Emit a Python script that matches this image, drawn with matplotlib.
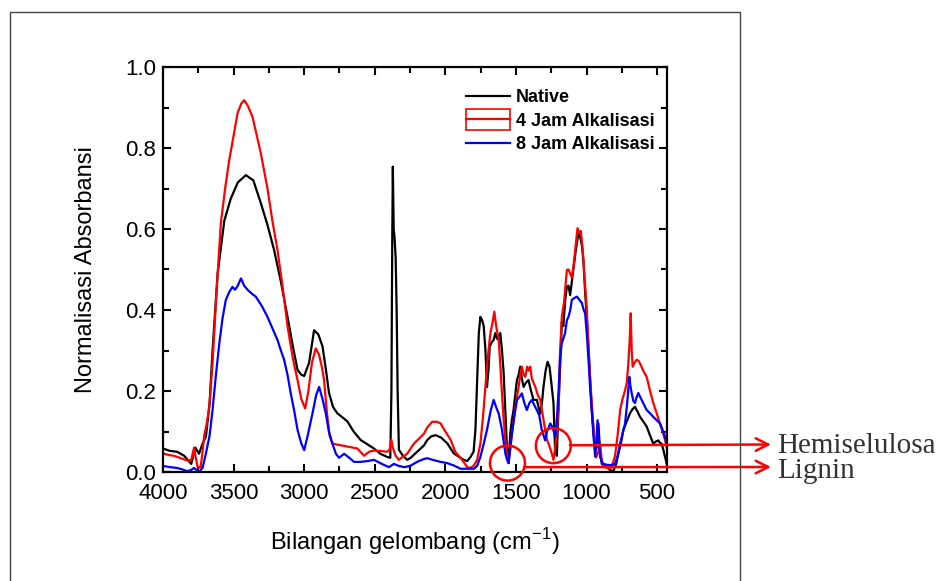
"""FTIR spectra: native vs alkali-treated samples (normalised absorbance)."""

import matplotlib

matplotlib.use("Agg")
import matplotlib.pyplot as plt
from matplotlib.patches import Ellipse, Rectangle
from matplotlib.legend_handler import HandlerTuple, HandlerPatch
from matplotlib.ticker import MultipleLocator, FormatStrFormatter

# --- data (wavenumber cm-1, normalised absorbance) ---
native_wn = [4000, 3950, 3900, 3850, 3800, 3770, 3745, 3720, 3696, 3670, 3649, 3613, 3566, 3520,
             3470, 3413, 3360, 3307, 3260, 3213, 3165, 3118, 3080, 3047, 3020, 3000, 2965, 2930,
             2900, 2870, 2845, 2824, 2795, 2765, 2730, 2694, 2650, 2600, 2550, 2506, 2460, 2411,
             2390, 2382, 2376, 2372, 2366, 2360, 2352, 2345, 2338, 2329, 2300, 2270, 2246, 2200,
             2153, 2128, 2100, 2069, 2030, 1987, 1940, 1893, 1869, 1845, 1822, 1800, 1787, 1775,
             1763, 1752, 1740, 1728, 1716, 1705, 1695, 1686, 1672, 1658, 1646, 1635, 1622, 1611,
             1599, 1587, 1575, 1564, 1552, 1540, 1528, 1517, 1505, 1493, 1481, 1470, 1458, 1446,
             1430, 1411, 1393, 1375, 1352, 1328, 1316, 1305, 1290, 1276, 1262, 1246, 1234, 1222,
             1215, 1210, 1199, 1187, 1175, 1164, 1152, 1140, 1128, 1116, 1104, 1092, 1075, 1057,
             1045, 1033, 1022, 1010, 998, 986, 975, 963, 951, 939, 928, 916, 904, 892, 875, 857,
             835, 810, 790, 774, 757, 739, 715, 692, 675, 657, 640, 621, 598, 574, 550, 527, 510,
             492, 480, 468, 456, 444, 432]
native_abs = [0.058, 0.052, 0.050, 0.040, 0.020, 0.060, 0.045, 0.070, 0.087, 0.170, 0.300, 0.490,
              0.620, 0.675, 0.715, 0.733, 0.720, 0.664, 0.610, 0.548, 0.470, 0.383, 0.310, 0.252,
              0.240, 0.237, 0.270, 0.350, 0.340, 0.310, 0.250, 0.195, 0.160, 0.145, 0.135, 0.125,
              0.100, 0.079, 0.068, 0.058, 0.045, 0.037, 0.035, 0.200, 0.580, 0.754, 0.600, 0.580,
              0.530, 0.400, 0.200, 0.055, 0.040, 0.030, 0.035, 0.050, 0.065, 0.079, 0.088, 0.091,
              0.085, 0.071, 0.046, 0.035, 0.030, 0.027, 0.037, 0.050, 0.104, 0.220, 0.343, 0.383,
              0.375, 0.360, 0.300, 0.210, 0.250, 0.309, 0.320, 0.326, 0.343, 0.330, 0.326, 0.343,
              0.300, 0.244, 0.150, 0.063, 0.022, 0.096, 0.130, 0.153, 0.190, 0.227, 0.240, 0.260,
              0.230, 0.210, 0.220, 0.227, 0.200, 0.178, 0.178, 0.144, 0.170, 0.210, 0.250, 0.272,
              0.260, 0.210, 0.170, 0.046, 0.080, 0.040, 0.161, 0.260, 0.370, 0.360, 0.420, 0.457,
              0.460, 0.437, 0.470, 0.503, 0.550, 0.590, 0.580, 0.560, 0.520, 0.445, 0.380, 0.305,
              0.230, 0.153, 0.100, 0.054, 0.060, 0.120, 0.050, 0.020, 0.015, 0.013, 0.005, 0.002,
              0.020, 0.046, 0.070, 0.104, 0.125, 0.145, 0.155, 0.161, 0.150, 0.136, 0.125, 0.112,
              0.090, 0.070, 0.075, 0.078, 0.072, 0.070, 0.055, 0.038, 0.020]

alk4_wn = [4000, 3960, 3922, 3880, 3828, 3800, 3780, 3770, 3757, 3734, 3720, 3708, 3690, 3672,
           3649, 3620, 3590, 3560, 3531, 3500, 3472, 3445, 3425, 3400, 3366, 3335, 3307, 3260,
           3225, 3189, 3150, 3118, 3080, 3047, 3020, 2993, 2970, 2945, 2918, 2895, 2875, 2859,
           2840, 2820, 2800, 2741, 2680, 2623, 2576, 2540, 2506, 2460, 2411, 2395, 2383, 2372,
           2352, 2329, 2300, 2270, 2223, 2153, 2128, 2093, 2060, 2034, 2000, 1963, 1930, 1893,
           1860, 1845, 1822, 1798, 1775, 1752, 1735, 1716, 1700, 1681, 1665, 1653, 1640, 1622,
           1610, 1599, 1587, 1575, 1563, 1552, 1540, 1528, 1505, 1481, 1470, 1458, 1446, 1434,
           1420, 1410, 1399, 1387, 1375, 1363, 1345, 1328, 1310, 1293, 1280, 1269, 1250, 1234,
           1222, 1211, 1198, 1187, 1175, 1159, 1139, 1128, 1116, 1104, 1092, 1080, 1064, 1052,
           1041, 1030, 1022, 1010, 998, 986, 975, 963, 951, 940, 932, 916, 904, 892, 880, 857,
           833, 815, 798, 780, 762, 745, 727, 715, 704, 695, 687, 680, 673, 660, 645, 633, 621,
           598, 574, 550, 527, 503, 480, 462, 444, 432]
alk4_abs = [0.046, 0.042, 0.040, 0.035, 0.028, 0.030, 0.060, 0.040, 0.015, 0.010, 0.050, 0.090,
            0.120, 0.160, 0.270, 0.450, 0.615, 0.700, 0.770, 0.830, 0.886, 0.910, 0.918, 0.905,
            0.877, 0.830, 0.787, 0.700, 0.620, 0.548, 0.450, 0.360, 0.280, 0.227, 0.180, 0.157,
            0.200, 0.270, 0.305, 0.290, 0.260, 0.227, 0.150, 0.090, 0.070, 0.066, 0.062, 0.058,
            0.040, 0.050, 0.053, 0.052, 0.050, 0.055, 0.080, 0.060, 0.040, 0.030, 0.038, 0.045,
            0.070, 0.094, 0.110, 0.124, 0.124, 0.120, 0.100, 0.080, 0.050, 0.035, 0.020, 0.012,
            0.010, 0.016, 0.030, 0.070, 0.130, 0.210, 0.280, 0.343, 0.370, 0.396, 0.360, 0.326,
            0.260, 0.194, 0.130, 0.079, 0.040, 0.022, 0.060, 0.096, 0.160, 0.210, 0.240, 0.260,
            0.240, 0.235, 0.260, 0.250, 0.260, 0.230, 0.220, 0.210, 0.190, 0.178, 0.140, 0.104,
            0.079, 0.070, 0.050, 0.030, 0.060, 0.096, 0.153, 0.300, 0.383, 0.420, 0.499, 0.500,
            0.490, 0.480, 0.510, 0.550, 0.602, 0.590, 0.595, 0.560, 0.525, 0.460, 0.400, 0.310,
            0.235, 0.170, 0.112, 0.060, 0.036, 0.050, 0.070, 0.030, 0.014, 0.010, 0.010, 0.020,
            0.040, 0.090, 0.153, 0.180, 0.202, 0.220, 0.268, 0.320, 0.392, 0.300, 0.260, 0.270,
            0.277, 0.275, 0.268, 0.250, 0.235, 0.200, 0.170, 0.145, 0.120, 0.100, 0.079, 0.060]

alk8_wn = [4000, 3950, 3900, 3860, 3828, 3800, 3780, 3760, 3745, 3720, 3696, 3670, 3649, 3625,
           3601, 3578, 3555, 3530, 3508, 3490, 3470, 3448, 3425, 3401, 3370, 3343, 3300, 3260,
           3225, 3189, 3165, 3142, 3118, 3095, 3070, 3047, 3020, 3000, 2975, 2941, 2915, 2894,
           2870, 2847, 2825, 2800, 2775, 2753, 2717, 2680, 2647, 2600, 2550, 2506, 2450, 2400,
           2364, 2330, 2290, 2250, 2200, 2153, 2128, 2090, 2034, 1987, 1940, 1892, 1845, 1798,
           1775, 1752, 1728, 1705, 1680, 1658, 1640, 1622, 1599, 1575, 1563, 1552, 1540, 1528,
           1510, 1493, 1476, 1458, 1440, 1423, 1405, 1387, 1370, 1352, 1335, 1317, 1293, 1280,
           1268, 1257, 1240, 1222, 1210, 1198, 1187, 1175, 1152, 1139, 1128, 1115, 1104, 1085,
           1068, 1050, 1033, 1020, 1010, 998, 986, 975, 963, 951, 939, 930, 922, 912, 904, 892,
           880, 857, 833, 815, 798, 780, 762, 745, 727, 712, 697, 688, 680, 668, 657, 645, 633,
           621, 598, 574, 550, 527, 503, 480, 462, 444, 432]
alk8_abs = [0.015, 0.012, 0.010, 0.006, 0.002, 0.005, 0.010, 0.004, 0.000, 0.010, 0.046, 0.090,
            0.153, 0.240, 0.318, 0.380, 0.425, 0.445, 0.457, 0.450, 0.460, 0.478, 0.460, 0.450,
            0.440, 0.433, 0.410, 0.383, 0.355, 0.326, 0.300, 0.277, 0.240, 0.194, 0.150, 0.104,
            0.070, 0.054, 0.090, 0.145, 0.190, 0.210, 0.180, 0.145, 0.100, 0.070, 0.045, 0.035,
            0.045, 0.035, 0.025, 0.025, 0.027, 0.030, 0.020, 0.012, 0.020, 0.015, 0.012, 0.015,
            0.025, 0.032, 0.034, 0.030, 0.025, 0.022, 0.016, 0.008, 0.008, 0.008, 0.015, 0.037,
            0.070, 0.104, 0.150, 0.178, 0.160, 0.144, 0.104, 0.046, 0.030, 0.022, 0.060, 0.096,
            0.140, 0.178, 0.185, 0.194, 0.170, 0.153, 0.170, 0.178, 0.165, 0.153, 0.140, 0.104,
            0.078, 0.100, 0.110, 0.120, 0.110, 0.087, 0.130, 0.200, 0.285, 0.318, 0.343, 0.375,
            0.383, 0.400, 0.425, 0.430, 0.433, 0.425, 0.417, 0.400, 0.392, 0.340, 0.277, 0.210,
            0.153, 0.090, 0.038, 0.080, 0.128, 0.080, 0.038, 0.025, 0.020, 0.018, 0.017, 0.018,
            0.020, 0.040, 0.070, 0.095, 0.120, 0.170, 0.235, 0.210, 0.194, 0.175, 0.170, 0.185,
            0.195, 0.186, 0.170, 0.153, 0.145, 0.136, 0.128, 0.120, 0.105, 0.087, 0.070]

series_labels = ["Native", "4 Jam Alkalisasi", "8 Jam Alkalisasi"]
series_colors = ["black", "red", "blue"]

x_ticks = [4000, 3500, 3000, 2500, 2000, 1500, 1000, 500]

# annotated regions: label, circle centre (wavenumber, absorbance), absorbance of the arrow line
marks = [("Hemiselulosa", 1235, 0.065, 0.066), ("Lignin", 1560, 0.022, 0.012)]


def _tall_box(legend, orig_handle, xdescent, ydescent, width, height, fontsize):
    # Origin draws this legend key as a box taller than the text row
    box_h = 1.15 * fontsize
    return Rectangle((-xdescent, -ydescent + height / 2 - box_h / 2), width, box_h)


plt.rcParams["font.family"] = ["Liberation Sans", "DejaVu Sans"]

W, H = 945, 581
fig = plt.figure(figsize=(W / 100, H / 100), dpi=100)
ax = fig.add_axes([163 / W, 1 - 472 / H, (667 - 163) / W, (472 - 67) / H])

# outer frame around the figure (its bottom edge lies outside the picture)
fig.patches.append(Rectangle((10 / W, -0.02), (740 - 10) / W, 1.02 - 12 / H,
                             transform=fig.transFigure, fill=False, edgecolor="#444444",
                             linewidth=1.0))

l_nat, = ax.plot(native_wn, native_abs, color=series_colors[0], lw=1.6)
l_4, = ax.plot(alk4_wn, alk4_abs, color=series_colors[1], lw=1.6)
l_8, = ax.plot(alk8_wn, alk8_abs, color=series_colors[2], lw=1.6)

ax.set_xlim(4000, 430)
ax.set_ylim(0, 1.0)
ax.set_xticks(x_ticks)
ax.xaxis.set_minor_locator(MultipleLocator(250))
ax.yaxis.set_major_locator(MultipleLocator(0.2))
ax.yaxis.set_minor_locator(MultipleLocator(0.1))
ax.yaxis.set_major_formatter(FormatStrFormatter("%.1f"))
ax.tick_params(which="both", direction="in", top=True, right=True, width=1.5)
ax.tick_params(which="major", length=6, labelsize=16)
ax.tick_params(axis="x", which="major", pad=8)
ax.tick_params(axis="y", which="major", pad=5)
ax.tick_params(which="minor", length=4)
for sp in ax.spines.values():
    sp.set_linewidth(1.6)

ax.set_xlabel("Bilangan gelombang (cm$^{\\mathregular{-1}}$)", fontsize=17, labelpad=16)
ax.set_ylabel("Normalisasi Absorbansi", fontsize=17, labelpad=20)

# legend (Origin-style box handle for the red series)
red_box = Rectangle((0, 0), 1, 1, facecolor="none", edgecolor="red", lw=1.2)
leg = ax.legend([l_nat, (red_box, l_4), l_8], series_labels, loc="upper right",
                bbox_to_anchor=(0.99, 0.963), borderaxespad=0, frameon=False,
                handlelength=2.45, handletextpad=0.35, labelspacing=0.35,
                prop={"weight": "bold", "size": 13},
                handler_map={tuple: HandlerTuple(ndivide=1),
                             Rectangle: HandlerPatch(patch_func=_tall_box)})

# circles + arrows to labels
px_wn = 500 / 70.7
circ_w = 35 * px_wn
circ_h = 35 / 405
label_y = {"Hemiselulosa": 1 - 444.5 / H, "Lignin": 1 - 467 / H}
label_base = {"Hemiselulosa": 1 - 453 / H, "Lignin": 1 - 478 / H}
for name, wn, val, line_val in marks:
    ax.add_patch(Ellipse((wn, val), circ_w, circ_h, fill=False, edgecolor="red", lw=1.8,
                         clip_on=False, zorder=5))
    ax.annotate("", xy=(771 / W, label_y[name]), xycoords="figure fraction",
                xytext=(wn - 16.5 * px_wn, line_val), textcoords="data",
                arrowprops=dict(arrowstyle="->,head_length=0.9,head_width=0.45",
                                color="red", lw=1.8, shrinkA=0, shrinkB=0))
    fig.text(777 / W, label_base[name], name, fontsize=21, family="Liberation Serif",
             color="#333333", va="baseline", ha="left")

fig.savefig("out.png", dpi=100)
